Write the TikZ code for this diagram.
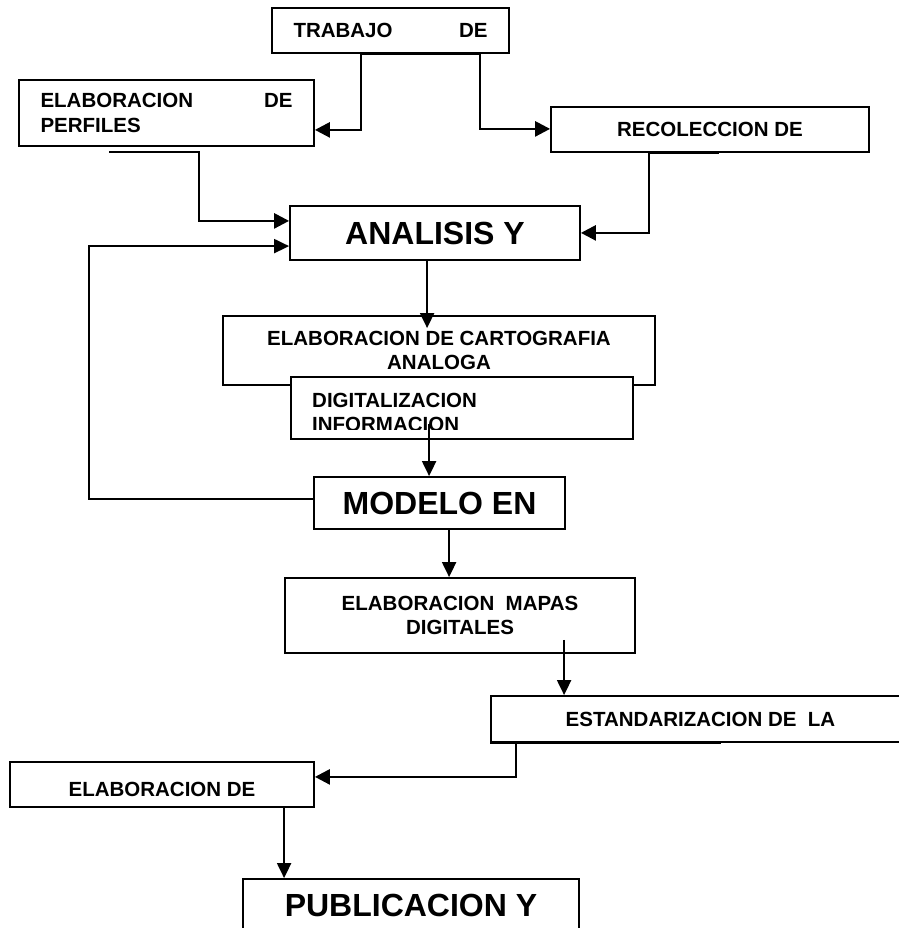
\documentclass[tikz,border=0pt]{standalone}
\usepackage{fontspec}
\setmainfont{Liberation Sans}
\usetikzlibrary{arrows.meta,calc}
\tikzset{
  box/.style={draw, line width=1.8pt, fill=white, inner sep=0pt},
  smalltxt/.style={font={\bfseries\fontsize{20.5}{24.5}\selectfont}},
  bigtxt/.style={font={\bfseries\fontsize{32}{36}\selectfont}},
  thickc/.style={line width=2.6pt, -{Triangle[length=15pt,width=15pt]}},
  thinc/.style={line width=2pt, -{Triangle[length=15pt,width=14pt]}},
  edgeseg/.style={line width=2.8pt},
}
\begin{document}
\begin{tikzpicture}[x=1pt,y=-1pt]
\useasboundingbox (0,0) rectangle (898,928);
% boxes
\node[box, smalltxt, minimum width=237pt, minimum height=45pt] (trabajo) at (390.5,30.5) {\hbox to 194pt{TRABAJO\hfill DE}};
\node[box, smalltxt, minimum width=295pt, minimum height=66pt, align=left] (perfiles) at (166.5,113) {\hbox to 252pt{ELABORACION\hfill DE}\\PERFILES};
\node[box, smalltxt, minimum width=318pt, minimum height=45pt] (recol) at (710,129.5) {RECOLECCION DE};
\node[box, bigtxt, minimum width=290pt, minimum height=54pt] (analisis) at (435,233) {ANALISIS Y};
\node[box, smalltxt, minimum width=432pt, minimum height=69pt, align=center] (carto) at (439,350.5) {ELABORACION DE CARTOGRAFIA\\ANALOGA};
\node[box, minimum width=342pt, minimum height=62pt] (digital) at (462,408) {};
\begin{scope}
  \clip (digital.north west) rectangle ($(digital.south east)+(0,-10)$);
  \node[smalltxt, anchor=base west, inner sep=0pt] (digtA) at (312,407) {DIGITALIZACION};
  \node[smalltxt, anchor=base west, inner sep=0pt] (digtB) at (312,431) {INFORMACION};
\end{scope}
\node[box, bigtxt, minimum width=251pt, minimum height=52pt] (modelo) at (439.5,503) {MODELO EN};
\node[box, smalltxt, minimum width=350pt, minimum height=75pt, align=center] (mapas) at (460,615.5) {ELABORACION\ \ MAPAS\\DIGITALES};
\node[box, smalltxt, minimum width=419pt, minimum height=46pt] (estand) at (700.5,719) {ESTANDARIZACION DE\ \ LA};
\node[box, smalltxt, minimum width=304pt, minimum height=45pt, text height=24pt, text depth=0pt] (elabde) at (162,784.5) {ELABORACION DE};
\node[box, bigtxt, minimum width=336pt, minimum height=53pt] (public) at (411,905.5) {PUBLICACION Y};
% thicker edge segments
\draw[edgeseg] ($(trabajo.south west)+(90,0)$) -- ($(trabajo.south west)+(209,0)$);
\draw[edgeseg] ($(recol.south west)+(99,0)$) -- ($(recol.south west)+(169,0)$);
\draw[edgeseg] (estand.south west) -- ($(estand.south west)+(231,0)$);
% connectors
\draw[thickc] ($(trabajo.south west)+(90,0)$) |- ($(perfiles.south east)+(0,-17)$);
\draw[thickc] ($(trabajo.south west)+(209,0)$) |- ($(recol.south west)+(0,-24)$);
\draw[thickc] ($(perfiles.south west)+(91,5)$) -- ++(90,0) |- ($(analisis.south west)+(0,-40)$);
\draw[thickc] ($(recol.south west)+(99,0)$) |- ($(analisis.south east)+(0,-28)$);
\draw[thinc] ($(analisis.south west)+(138,0)$) -- ($(carto.north west)+(205,13)$);
\draw[thinc] ($(modelo.north west)+(0,23)$) -- ++(-224,0) |- ($(analisis.north west)+(0,41)$);
\draw[thinc] ($(digital.south west)+(139,-16)$) -- ($(modelo.north west)+(116,0)$);
\draw[thinc] ($(modelo.south west)+(136,0)$) -- ($(mapas.north west)+(165,0)$);
\draw[thinc] ($(mapas.south west)+(280,-14)$) -- ($(estand.north west)+(74,0)$);
\draw[thickc] ($(estand.south west)+(26,0)$) |- ($(elabde.south east)+(0,-31)$);
\draw[thinc] ($(elabde.south west)+(275,0)$) -- ($(public.north west)+(42,0)$);
\end{tikzpicture}
\end{document}
